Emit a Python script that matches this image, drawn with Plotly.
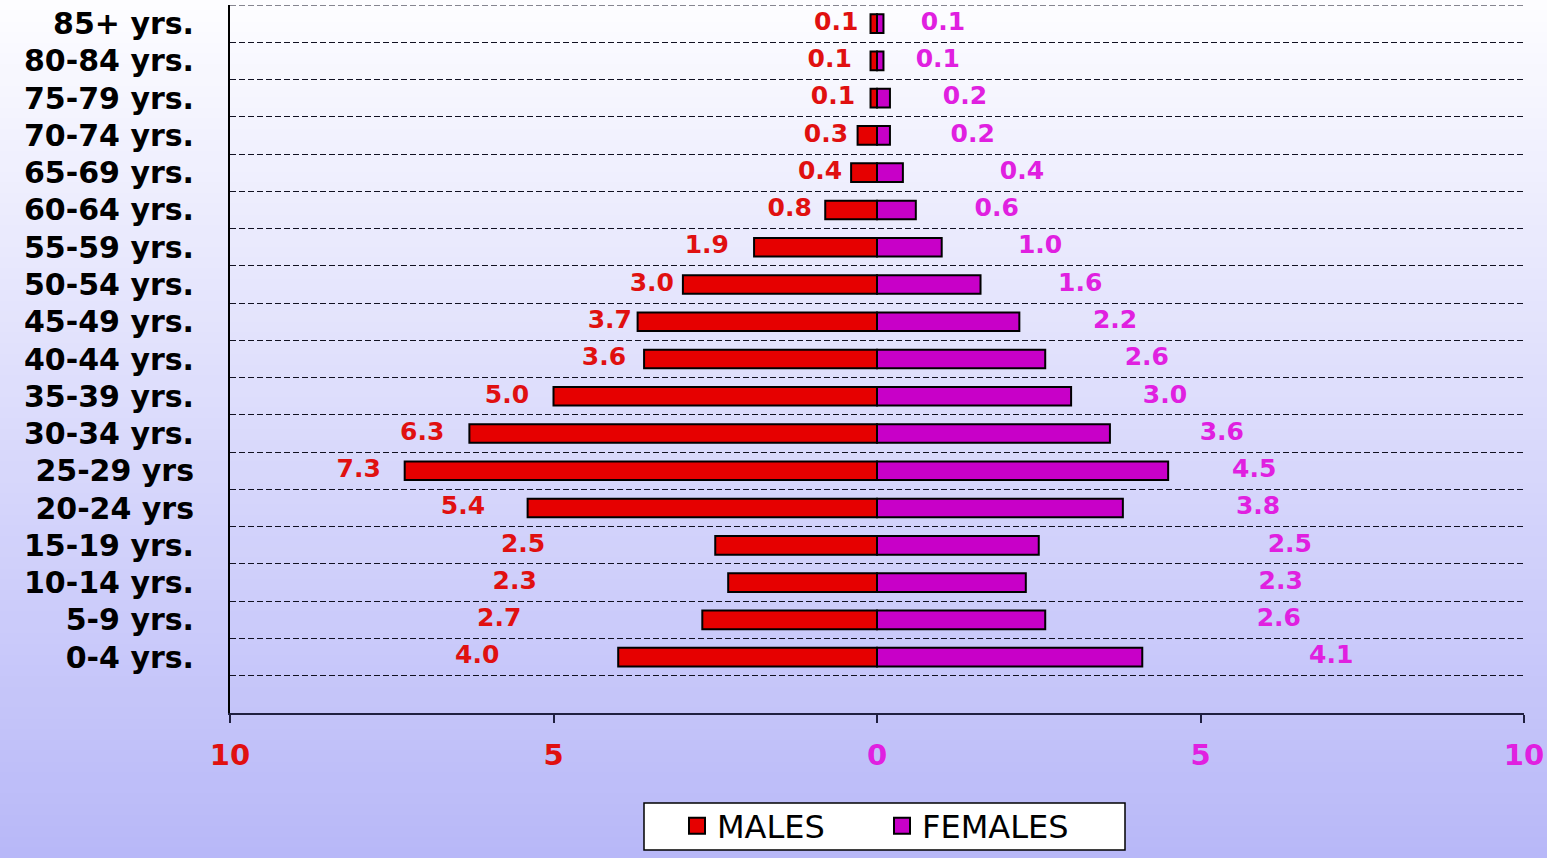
import plotly.graph_objects as go

# ---------------- data ----------------
categories = ["0-4 yrs.", "5-9 yrs.", "10-14 yrs.", "15-19 yrs.", "20-24 yrs",
              "25-29 yrs", "30-34 yrs.", "35-39 yrs.", "40-44 yrs.", "45-49 yrs.",
              "50-54 yrs.", "55-59 yrs.", "60-64 yrs.", "65-69 yrs.", "70-74 yrs.",
              "75-79 yrs.", "80-84 yrs.", "85+ yrs."]
males = [4.0, 2.7, 2.3, 2.5, 5.4, 7.3, 6.3, 5.0, 3.6, 3.7, 3.0, 1.9, 0.8, 0.4, 0.3, 0.1, 0.1, 0.1]
females = [4.1, 2.6, 2.3, 2.5, 3.8, 4.5, 3.6, 3.0, 2.6, 2.2, 1.6, 1.0, 0.6, 0.4, 0.2, 0.2, 0.1, 0.1]
x_tick_values = [-10, -5, 0, 5, 10]
x_tick_labels = ["10", "5", "0", "5", "10"]

# label placement (gap between bar end and label centre, in axis units)
male_label_gap = [2.18, 3.14, 3.30, 2.97, 1.00, 0.71, 0.73, 0.72, 0.62, 0.43,
                  0.48, 0.73, 0.55, 0.48, 0.49, 0.58, 0.63, 0.53]
female_label_gap = [2.92, 3.61, 3.94, 3.88, 2.09, 1.33, 1.73, 1.45, 1.57, 1.48,
                    1.54, 1.52, 1.25, 1.84, 1.28, 1.16, 0.84, 0.92]

# ---------------- style ----------------
W, H = 1547, 858
ML, MR, MT, MB = 230, 23, 5, 145
RED = "#E60000"
MAG = "#C800C8"
RED_TXT = "#E01010"
MAG_TXT = "#E020E0"
FONT = "DejaVu Sans"
GRID = "#111122"

n = len(categories)
ypos = list(range(1, n + 1))

fig = go.Figure()
fig.add_bar(y=ypos, x=[-v for v in males], orientation="h", name="MALES", showlegend=False,
            width=0.5, marker=dict(color=RED, line=dict(color="black", width=2)))
fig.add_bar(y=ypos, x=females, orientation="h", name="FEMALES", showlegend=False,
            width=0.5, marker=dict(color=MAG, line=dict(color="black", width=2)))

# legend keys (no data points)
for name, col in (("MALES", RED), ("FEMALES", MAG)):
    fig.add_scatter(x=[None], y=[None], mode="markers", name=name,
                    marker=dict(symbol="square", size=16, color=col,
                                line=dict(color="black", width=2)))

fig.add_scatter(y=ypos, x=[-(v + g) for v, g in zip(males, male_label_gap)],
                mode="text", text=[f"{v:.1f}" for v in males], showlegend=False,
                textfont=dict(family=FONT, size=25, color=RED_TXT, weight="bold"),
                hoverinfo="skip")
fig.add_scatter(y=ypos, x=[v + g for v, g in zip(females, female_label_gap)],
                mode="text", text=[f"{v:.1f}" for v in females], showlegend=False,
                textfont=dict(family=FONT, size=25, color=MAG_TXT, weight="bold"),
                hoverinfo="skip")

# gradient background (decorative)
plot_w = W - ML - MR
plot_h = H - MT - MB
top_rgb = (253, 253, 255)
bot_rgb = (184, 184, 248)
N = 80
shapes = []
for i in range(N):
    py0 = i * H / N
    py1 = (i + 1) * H / N + 1
    t = (i + 0.5) / N
    c = tuple(round(a + (b - a) * t) for a, b in zip(top_rgb, bot_rgb))
    shapes.append(dict(type="rect", xref="paper", yref="paper", layer="below",
                       x0=-ML / plot_w - 0.01, x1=1 + MR / plot_w + 0.01,
                       y0=(H - MB - py1) / plot_h, y1=(H - MB - py0) / plot_h,
                       fillcolor="rgb(%d,%d,%d)" % c, line=dict(width=0)))


def px_x(px):
    return (px - ML) / plot_w


def px_y(py):
    return (H - MB - py) / plot_h


# top boundary gridline
shapes.append(dict(type="line", xref="paper", yref="y", x0=0, x1=1, y0=n + 0.5, y1=n + 0.5,
                   line=dict(color=GRID, width=1.2, dash="6px,3px")))

# legend frame
shapes.append(dict(type="rect", xref="paper", yref="paper", layer="below",
                   x0=px_x(644), x1=px_x(1125), y0=px_y(850), y1=px_y(803),
                   fillcolor="white", line=dict(color="black", width=1.5)))

tick_text = []
for v, lab in zip(x_tick_values, x_tick_labels):
    col = RED_TXT if v < 0 else MAG_TXT
    tick_text.append(f'<span style="color:{col}">{lab}</span>')

fig.update_layout(
    width=W, height=H,
    margin=dict(l=ML, r=MR, t=MT, b=MB, autoexpand=False),
    paper_bgcolor="rgb(%d,%d,%d)" % top_rgb,
    plot_bgcolor="rgba(0,0,0,0)",
    barmode="overlay",
    shapes=shapes,
    showlegend=True,
    legend=dict(orientation="h", x=px_x(677), xanchor="left", y=px_y(826), yanchor="middle",
                bgcolor="rgba(0,0,0,0)", borderwidth=0, itemsizing="trace",
                font=dict(family=FONT, size=32, color="black"),
                entrywidth=160, itemwidth=30),
    xaxis=dict(range=[-10, 10], tickvals=x_tick_values, ticktext=tick_text,
               ticks="outside", ticklen=8, tickwidth=1.5, tickcolor="#202040",
               showline=True, linecolor="#202040", linewidth=1.5,
               showgrid=False, zeroline=False, fixedrange=True, automargin=False,
               tickfont=dict(family=FONT, size=29, weight="bold"),
               ticklabelstandoff=7),
    yaxis=dict(range=[-0.5, n + 0.5], tickvals=ypos, ticktext=categories,
               ticks="", showline=True, linecolor="black", linewidth=2,
               showgrid=False, zeroline=False, fixedrange=True, automargin=False,
               tickfont=dict(family=FONT, size=30, color="black", weight="bold"),
               ticklabelstandoff=28,
               minor=dict(tickmode="array", tickvals=[k + 0.5 for k in range(n)],
                          ticks="", showgrid=True, griddash="6px,3px",
                          gridcolor=GRID, gridwidth=1.2)),
)

fig.write_html("out.html", config={"displayModeBar": False},
               post_script="document.body.style.margin='0px';document.body.style.overflow='hidden';")
